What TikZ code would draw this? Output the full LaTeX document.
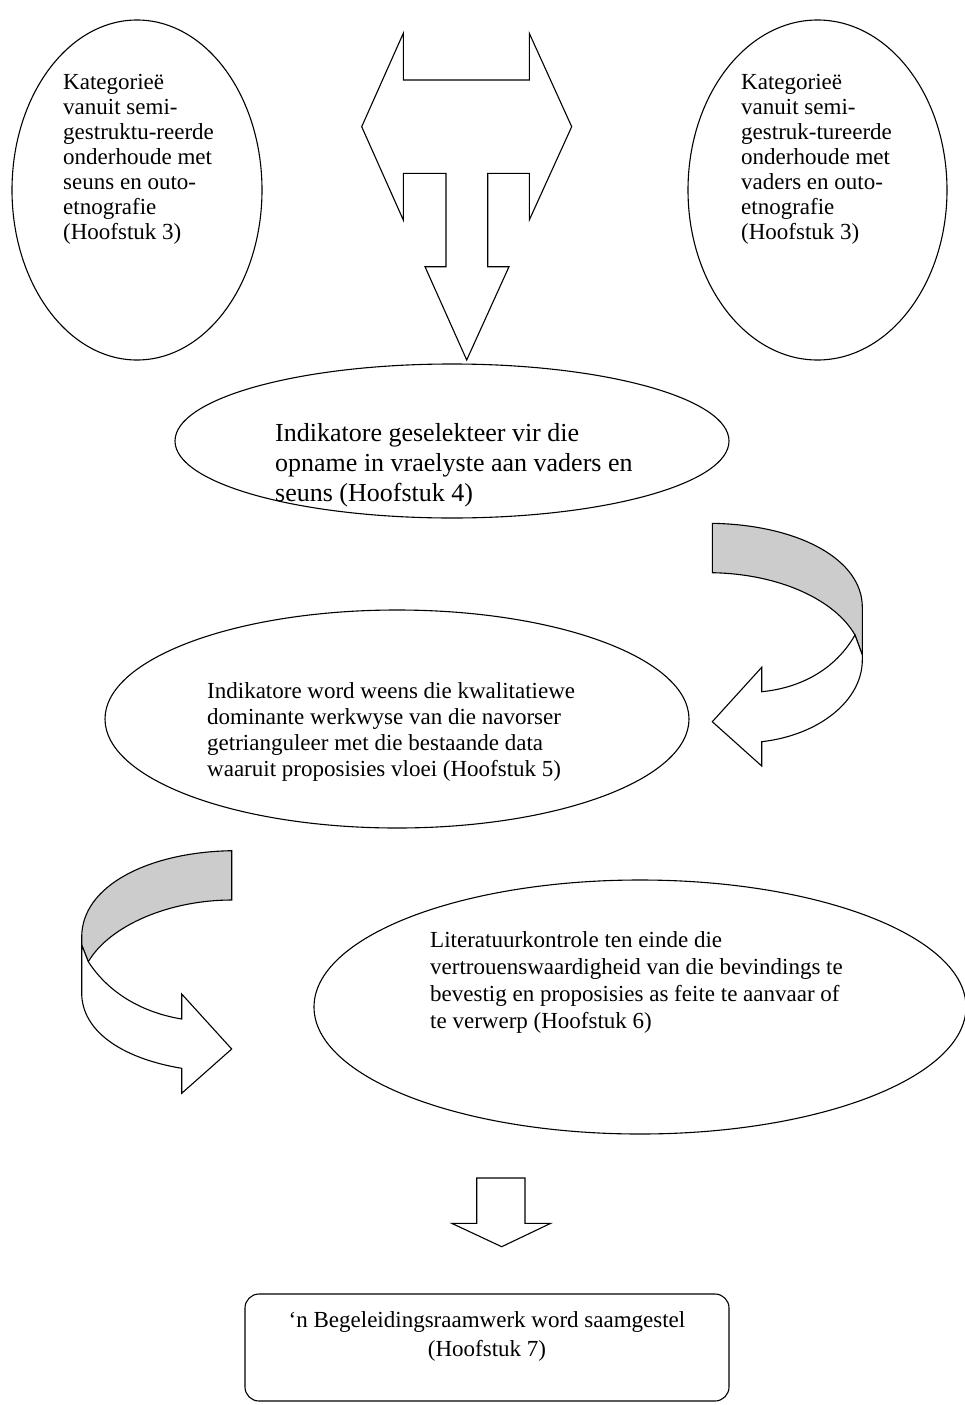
\documentclass[tikz,border=0pt]{standalone}
\usepackage{fontspec}
\setmainfont{Liberation Serif}
\begin{document}
\begin{tikzpicture}[x=1pt,y=-1pt]
\tikzset{
  shapeline/.style={draw=black, line width=1.1pt, line join=miter},
  bandback/.style={shapeline, fill=black!20},
  bandfront/.style={shapeline, fill=white},
  bodytext/.style={font=\fontsize{23}{26}\selectfont, align=left, inner sep=0pt, anchor=north west},
  toptext/.style={font=\fontsize{23}{25}\selectfont, align=left, inner sep=0pt, anchor=north west},
  bigtext/.style={font=\fontsize{26}{30}\selectfont, align=left, inner sep=0pt, anchor=north west},
}
\useasboundingbox (0,0) rectangle (965,1405);

% top ellipses
\draw[shapeline] (137,190) ellipse [x radius=125, y radius=170];
\draw[shapeline] (817.5,190) ellipse [x radius=129.5, y radius=170];
\node[toptext] (tl) at (63,74) {Kategorieë\\vanuit semi-\\gestruktu-reerde\\onderhoude met\\seuns en outo-\\etnografie\\(Hoofstuk 3)};
\node[toptext] (tr) at (741,74) {Kategorieë\\vanuit semi-\\gestruk-tureerde\\onderhoude met\\vaders en outo-\\etnografie\\(Hoofstuk 3)};

% top three-way block arrow
\draw[shapeline] (403.3,33.3) -- (403.3,80) -- (529.3,80) -- (529.3,33.3) -- (571.7,126.7)
  -- (529.3,220) -- (529.3,173.3) -- (487.7,173.3) -- (487.7,266.7) -- (509,266.7)
  -- (466.7,360) -- (425,266.7) -- (446,266.7) -- (446,173.3) -- (403.3,173.3)
  -- (403.3,220) -- (361.7,126.7) -- cycle;

% ellipse 2
\draw[shapeline] (452,441) ellipse [x radius=277, y radius=77];
\node[bigtext] (e2) at (275,423) {Indikatore geselekteer vir die\\opname in vraelyste aan vaders en\\seuns (Hoofstuk 4)};

% curved arrow right
\draw[bandback] (712.3,523.3) .. controls (800,525) and (862,560) .. (862.3,606.7)
  -- (862.3,655) -- (855,635) .. controls (835,600) and (780,574) .. (712.3,572.7) -- cycle;
\draw[bandfront] (855,635) .. controls (835,670) and (800,688) .. (761.7,691.7)
  -- (761.7,667.3) -- (712.3,721.7) -- (761.7,766) -- (761.7,741.7)
  .. controls (820,735) and (862.3,700) .. (862.3,660) -- (862.3,655) -- cycle;

% ellipse 3
\draw[shapeline] (397,719) ellipse [x radius=292, y radius=109];
\node[bodytext] (e3) at (207,682) {Indikatore word weens die kwalitatiewe\\dominante werkwyse van die navorser\\getrianguleer met die bestaande data\\waaruit proposisies vloei (Hoofstuk 5)};

% curved arrow left
\draw[bandback] (231.7,850.7) .. controls (150,852) and (81.7,885) .. (81.7,937)
  -- (81.7,945) -- (88.3,961.7) .. controls (110,925) and (170,900) .. (231.7,900) -- cycle;
\draw[bandfront] (88.3,961.7) .. controls (110,995) and (145,1013) .. (181.7,1019)
  -- (181.7,994) -- (231.7,1049) -- (181.7,1093.3) -- (181.7,1068.3)
  .. controls (120,1058) and (81.7,1030) .. (81.7,993) -- (81.7,945) -- cycle;

% ellipse 4
\draw[shapeline] (640,1007) ellipse [x radius=326, y radius=127];
\node[bodytext, font=\fontsize{23}{27}\selectfont] (e4) at (430,931) {Literatuurkontrole ten einde die\\vertrouenswaardigheid van die bevindings te\\bevestig en proposisies as feite te aanvaar of\\te verwerp (Hoofstuk 6)};

% bottom arrow
\draw[shapeline] (476.7,1178) -- (476.7,1223.3) -- (451.7,1223.3) -- (501.7,1246.7)
  -- (550.7,1223.3) -- (525,1223.3) -- (525,1178) -- cycle;

% bottom box
\draw[shapeline, rounded corners=14pt] (245,1294) rectangle (729,1401);
\node[font=\fontsize{23}{29}\selectfont, align=center, inner sep=0pt, anchor=north] (box) at (487,1311) {‘n Begeleidingsraamwerk word saamgestel\\(Hoofstuk 7)};
\end{tikzpicture}
\end{document}
